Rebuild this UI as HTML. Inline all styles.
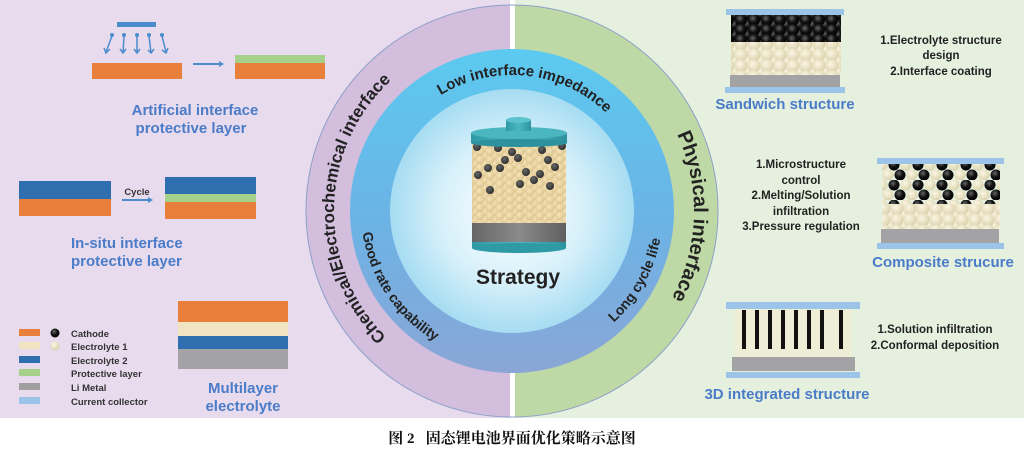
<!DOCTYPE html>
<html><head><meta charset="utf-8"><style>
html,body{margin:0;padding:0;background:#fff;}
svg{display:block;}
.bl{font-family:"Liberation Sans",sans-serif;font-weight:bold;fill:#4a7cc8;font-size:15px;}
.dk{font-family:"Liberation Sans",sans-serif;font-weight:bold;fill:#222;font-size:11.5px;}
.lg{font-family:"Liberation Sans",sans-serif;font-weight:bold;fill:#333;font-size:9.5px;}
.rt{font-family:"Liberation Sans",sans-serif;font-weight:bold;fill:#222;}
</style></head><body>
<svg width="1024" height="456" viewBox="0 0 1024 456" xmlns="http://www.w3.org/2000/svg">
<defs>
<radialGradient id="bk" cx="0.4" cy="0.35" r="0.7"><stop offset="0" stop-color="#666"/><stop offset="0.5" stop-color="#111"/><stop offset="1" stop-color="#000"/></radialGradient>
<radialGradient id="cr" cx="0.4" cy="0.35" r="0.7"><stop offset="0" stop-color="#fbf6e4"/><stop offset="1" stop-color="#d8cfa8"/></radialGradient>
<radialGradient id="bc" cx="0.4" cy="0.35" r="0.7"><stop offset="0" stop-color="#f6e4b8"/><stop offset="1" stop-color="#d9c18a"/></radialGradient>
<radialGradient id="bg" cx="0.4" cy="0.35" r="0.7"><stop offset="0" stop-color="#666"/><stop offset="1" stop-color="#2a2a2a"/></radialGradient>
<pattern id="pBk" width="13" height="10" patternUnits="userSpaceOnUse"><circle cx="6.5" cy="5" r="6" fill="url(#bk)"/><circle cx="0" cy="0" r="6" fill="url(#bk)"/><circle cx="13" cy="0" r="6" fill="url(#bk)"/><circle cx="0" cy="10" r="6" fill="url(#bk)"/><circle cx="13" cy="10" r="6" fill="url(#bk)"/></pattern>
<pattern id="pCr" width="13" height="11" patternUnits="userSpaceOnUse"><circle cx="6.5" cy="5.5" r="6.5" fill="url(#cr)"/><circle cx="0" cy="0" r="6.5" fill="url(#cr)"/><circle cx="13" cy="0" r="6.5" fill="url(#cr)"/><circle cx="0" cy="11" r="6.5" fill="url(#cr)"/><circle cx="13" cy="11" r="6.5" fill="url(#cr)"/></pattern>
<pattern id="pMix" width="24" height="20" patternUnits="userSpaceOnUse"><circle cx="6" cy="5" r="5.5" fill="url(#bk)"/><circle cx="18" cy="5" r="5.5" fill="url(#cr)"/><circle cx="0" cy="15" r="5.5" fill="url(#cr)"/><circle cx="12" cy="15" r="5.5" fill="url(#bk)"/><circle cx="24" cy="15" r="5.5" fill="url(#cr)"/></pattern>
<pattern id="pBat" width="10" height="8" patternUnits="userSpaceOnUse"><circle cx="5" cy="4" r="4.3" fill="url(#bc)"/><circle cx="0" cy="0" r="4.3" fill="url(#bc)"/><circle cx="10" cy="0" r="4.3" fill="url(#bc)"/><circle cx="0" cy="8" r="4.3" fill="url(#bc)"/><circle cx="10" cy="8" r="4.3" fill="url(#bc)"/></pattern>
<linearGradient id="blu" x1="0" y1="0" x2="0" y2="1"><stop offset="0" stop-color="#5ccaf0"/><stop offset="0.5" stop-color="#6ab4e6"/><stop offset="1" stop-color="#8aa6d6"/></linearGradient>
<radialGradient id="inn" cx="0.5" cy="0.5" r="0.5"><stop offset="0" stop-color="#ffffff"/><stop offset="0.6" stop-color="#d6f0fa"/><stop offset="1" stop-color="#a6dcf2"/></radialGradient>
<linearGradient id="teal" x1="0" y1="0" x2="1" y2="0"><stop offset="0" stop-color="#2e9aa6"/><stop offset="0.5" stop-color="#4ab8c2"/><stop offset="1" stop-color="#2e929e"/></linearGradient>
<linearGradient id="gry" x1="0" y1="0" x2="1" y2="0"><stop offset="0" stop-color="#666"/><stop offset="0.5" stop-color="#8a8a8a"/><stop offset="1" stop-color="#606060"/></linearGradient>
<clipPath id="ring"><circle cx="512" cy="211" r="206"/></clipPath>
<path id="cwO" d="M512,389 A178,178 0 1 1 512,33 A178,178 0 1 1 512,389"/>
<path id="cwP" d="M512,393 A182,182 0 1 1 512,29 A182,182 0 1 1 512,393"/>
<path id="cwI" d="M512,347 A136,136 0 1 1 512,75 A136,136 0 1 1 512,347"/>
<path id="ccI" d="M512,60 A151,151 0 1 0 512,362 A151,151 0 1 0 512,60"/>
</defs>

<rect x="0" y="0" width="510" height="418" fill="#e9dbee"/>
<rect x="515" y="0" width="509" height="418" fill="#e5f0de"/>
<rect x="510" y="0" width="5" height="418" fill="#fff"/>

<g clip-path="url(#ring)">
<rect x="300" y="0" width="210" height="430" fill="#d3bedd"/>
<rect x="515" y="0" width="215" height="430" fill="#bfd9a6"/>
<rect x="510" y="0" width="5" height="430" fill="#fff"/>
</g>
<circle cx="512" cy="211" r="206" fill="none" stroke="#8ea0c8" stroke-width="1"/>
<circle cx="512" cy="211" r="162" fill="url(#blu)"/>
<circle cx="512" cy="211" r="122" fill="url(#inn)"/>

<text class="rt" font-size="17"><textPath href="#cwO" startOffset="25.3%" text-anchor="middle">Chemical/Electrochemical interface</textPath></text>
<text class="rt" font-size="20"><textPath href="#cwP" startOffset="75.5%" text-anchor="middle">Physical interface</textPath></text>
<text class="rt" font-size="15"><textPath href="#cwI" startOffset="51.7%" text-anchor="middle">Low interface impedance</textPath></text>
<text class="rt" font-size="14"><textPath href="#ccI" startOffset="34.4%" text-anchor="middle">Good rate capability</textPath></text>
<text class="rt" font-size="14"><textPath href="#ccI" startOffset="66.9%" text-anchor="middle">Long cycle life</textPath></text>

<rect x="472" y="222" width="94" height="26" fill="url(#gry)"/>
<rect x="472" y="242" width="94" height="6" fill="url(#teal)"/>
<ellipse cx="519" cy="248" rx="47" ry="5" fill="#2e9aa6"/>
<rect x="472" y="140" width="94" height="83" fill="#e2cf9c"/>
<rect x="472" y="140" width="94" height="83" fill="url(#pBat)"/>
<g fill="url(#bg)">
<circle cx="512" cy="152" r="4"/><circle cx="505" cy="160" r="4"/><circle cx="518" cy="158" r="4"/><circle cx="500" cy="168" r="4"/><circle cx="488" cy="168" r="4"/><circle cx="542" cy="150" r="4"/><circle cx="548" cy="160" r="4"/><circle cx="555" cy="167" r="4"/><circle cx="478" cy="175" r="4"/><circle cx="526" cy="172" r="4"/><circle cx="534" cy="180" r="4"/><circle cx="520" cy="184" r="4"/><circle cx="490" cy="190" r="4"/><circle cx="550" cy="186" r="4"/><circle cx="498" cy="148" r="4"/><circle cx="477" cy="147" r="4"/><circle cx="562" cy="146" r="4"/><circle cx="540" cy="174" r="4"/>
</g>
<rect x="471" y="133" width="96" height="10" fill="url(#teal)"/>
<ellipse cx="519" cy="143" rx="48" ry="4" fill="#2e929e"/>
<ellipse cx="519" cy="133" rx="48" ry="6" fill="#4cb6c0"/>
<rect x="506" y="120" width="25" height="11" fill="url(#teal)"/>
<ellipse cx="518.5" cy="120" rx="12.5" ry="3" fill="#5cc2cb"/>
<text x="518" y="284" text-anchor="middle" class="rt" font-size="21">Strategy</text>

<rect x="117" y="22" width="39" height="5" fill="#4a8ccc"/>
<g stroke="#4a8ccc" stroke-width="1.5" fill="none">
<path d="M112,36 L106,52 M104,48 L106,53 L110,49"/>
<path d="M124,36 L123,53 M120,49 L123,53 L126,49"/>
<path d="M137,36 L137,53 M134,49 L137,53 L140,49"/>
<path d="M149,36 L151,53 M148,50 L151,53 L154,49"/>
<path d="M162,36 L166,52 M162,50 L166,53 L168,48"/>
</g>
<g fill="#4a8ccc"><circle cx="112" cy="35" r="2"/><circle cx="124" cy="35" r="2"/><circle cx="137" cy="35" r="2"/><circle cx="149" cy="35" r="2"/><circle cx="162" cy="35" r="2"/></g>
<rect x="92" y="63" width="90" height="16" fill="#e87f3a"/>
<path d="M193,64 L222,64" stroke="#4a8ccc" stroke-width="2"/><path d="M219,61 L224,64 L219,67z" fill="#4a8ccc"/>
<rect x="235" y="55" width="90" height="8" fill="#a6d18a"/>
<rect x="235" y="63" width="90" height="16" fill="#e87f3a"/>
<text x="195" y="115" text-anchor="middle" class="bl">Artificial interface</text>
<text x="191" y="133" text-anchor="middle" class="bl">protective layer</text>

<rect x="19" y="181" width="92" height="18" fill="#2f6fb0"/>
<rect x="19" y="199" width="92" height="17" fill="#e87f3a"/>
<text x="137" y="195" text-anchor="middle" class="lg">Cycle</text>
<path d="M122,200 L150,200" stroke="#4a8ccc" stroke-width="2"/><path d="M148,197 L153,200 L148,203z" fill="#4a8ccc"/>
<rect x="165" y="177" width="91" height="17" fill="#2f6fb0"/>
<rect x="165" y="194" width="91" height="8" fill="#a6d18a"/>
<rect x="165" y="202" width="91" height="17" fill="#e87f3a"/>
<text x="71" y="248" class="bl">In-situ interface</text>
<text x="71" y="266" class="bl">protective layer</text>

<rect x="19" y="329" width="21" height="7" fill="#e87f3a"/>
<rect x="19" y="342" width="21" height="7" fill="#f0e4c2"/>
<rect x="19" y="356" width="21" height="7" fill="#2f6fb0"/>
<rect x="19" y="369" width="21" height="7" fill="#a6d18a"/>
<rect x="19" y="383" width="21" height="7" fill="#a0a0a0"/>
<rect x="19" y="397" width="21" height="7" fill="#9cc4e8"/>
<circle cx="55" cy="333" r="4.5" fill="url(#bk)"/>
<circle cx="55" cy="346" r="4.5" fill="url(#cr)"/>
<text x="71" y="337" class="lg">Cathode</text>
<text x="71" y="350" class="lg">Electrolyte 1</text>
<text x="71" y="364" class="lg">Electrolyte 2</text>
<text x="71" y="377" class="lg">Protective layer</text>
<text x="71" y="391" class="lg">Li Metal</text>
<text x="71" y="405" class="lg">Current collector</text>

<rect x="178" y="301" width="110" height="21" fill="#e87f3a"/>
<rect x="178" y="322" width="110" height="14" fill="#f0e4c2"/>
<rect x="178" y="336" width="110" height="13" fill="#2f6fb0"/>
<rect x="178" y="349" width="110" height="20" fill="#a3a3a6"/>
<text x="243" y="393" text-anchor="middle" class="bl">Multilayer</text>
<text x="243" y="411" text-anchor="middle" class="bl">electrolyte</text>

<rect x="726" y="9" width="118" height="6" fill="#9cc4e8"/>
<rect x="731" y="15" width="110" height="28" fill="url(#pBk)"/>
<rect x="731" y="42" width="110" height="33" fill="url(#pCr)"/>
<rect x="730" y="75" width="110" height="12" fill="#a3a3a6"/>
<rect x="725" y="87" width="120" height="6" fill="#9cc4e8"/>
<text x="785" y="109" text-anchor="middle" class="bl">Sandwich structure</text>
<text x="941" y="44" text-anchor="middle" class="dk">1.Electrolyte structure</text>
<text x="941" y="59" text-anchor="middle" class="dk">design</text>
<text x="941" y="75" text-anchor="middle" class="dk">2.Interface coating</text>

<text x="801" y="168" text-anchor="middle" class="dk">1.Microstructure</text>
<text x="801" y="184" text-anchor="middle" class="dk">control</text>
<text x="801" y="199" text-anchor="middle" class="dk">2.Melting/Solution</text>
<text x="801" y="215" text-anchor="middle" class="dk">infiltration</text>
<text x="801" y="230" text-anchor="middle" class="dk">3.Pressure regulation</text>
<rect x="877" y="158" width="127" height="6" fill="#9cc4e8"/>
<rect x="882" y="164" width="118" height="40" fill="url(#pMix)"/>
<rect x="882" y="204" width="118" height="25" fill="url(#pCr)"/>
<rect x="881" y="229" width="118" height="14" fill="#a3a3a6"/>
<rect x="877" y="243" width="127" height="6" fill="#9cc4e8"/>
<text x="943" y="267" text-anchor="middle" class="bl">Composite strucure</text>

<rect x="726" y="302" width="134" height="7" fill="#9cc4e8"/>
<rect x="735" y="309" width="117" height="48" fill="#eeeed6"/>
<g fill="#111"><rect x="742" y="310" width="4" height="39"/><rect x="755" y="310" width="4" height="39"/><rect x="768" y="310" width="4" height="39"/><rect x="781" y="310" width="4" height="39"/><rect x="794" y="310" width="4" height="39"/><rect x="807" y="310" width="4" height="39"/><rect x="820" y="310" width="4" height="39"/><rect x="839" y="310" width="4" height="39"/></g>
<rect x="732" y="357" width="123" height="14" fill="#a3a3a6"/>
<rect x="726" y="372" width="134" height="6" fill="#9cc4e8"/>
<text x="787" y="399" text-anchor="middle" class="bl">3D integrated structure</text>
<text x="935" y="333" text-anchor="middle" class="dk">1.Solution infiltration</text>
<text x="935" y="349" text-anchor="middle" class="dk">2.Conformal deposition</text>

<text x="512" y="443" text-anchor="middle" style="font-family:'Liberation Serif','Noto Serif CJK SC',serif;font-weight:bold;font-size:15px;fill:#111" xml:space="preserve">图 2   固态锂电池界面优化策略示意图</text>
</svg>
</body></html>
